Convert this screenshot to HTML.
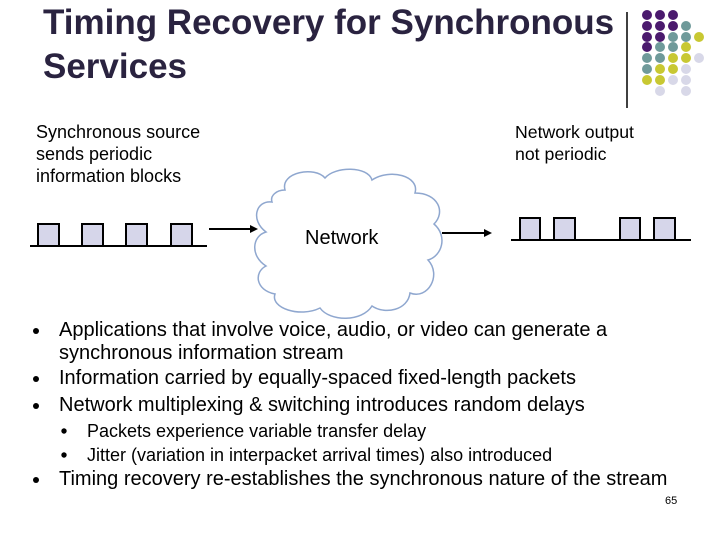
<!DOCTYPE html>
<html><head><style>
body{margin:0;width:720px;height:540px;background:#fff;position:relative;overflow:hidden;font-family:"Liberation Sans",sans-serif;color:#000}
.a{position:absolute;white-space:nowrap}
</style></head><body>
<div class="a" style="left:43px;top:1px;font-size:35px;font-weight:bold;color:#2a2340;line-height:44px">Timing Recovery for Synchronous<br>Services</div>
<svg class="a" style="left:0;top:0" width="720" height="540">
<line x1="627" y1="12" x2="627" y2="108" stroke="#000" stroke-width="1.5"/>
<path d="M285,190 C280,172 315,166 325,178 C335,166 368,166 372,180 C390,168 420,176 415,193 C438,193 446,212 434,224 C448,236 442,256 428,260 C442,275 428,300 410,293 C408,310 385,315 372,306 C362,322 330,322 320,308 C300,318 270,308 275,294 C255,290 254,272 266,266 C250,256 252,236 266,232 C250,220 256,200 272,202 C270,196 276,190 285,190 Z" fill="#fff" stroke="#8fa7cf" stroke-width="1.5"/>
<g stroke="#000" stroke-width="2" fill="#d6d6ea">
<line x1="30" y1="246" x2="207" y2="246"/>
<rect x="38" y="224" width="21" height="22"/><rect x="82" y="224" width="21" height="22"/><rect x="126" y="224" width="21" height="22"/><rect x="171" y="224" width="21" height="22"/>
<line x1="511" y1="240" x2="691" y2="240"/>
<rect x="520" y="218" width="20" height="22"/><rect x="554" y="218" width="21" height="22"/><rect x="620" y="218" width="20" height="22"/><rect x="654" y="218" width="21" height="22"/>
<line x1="209" y1="229" x2="252" y2="229"/><line x1="442" y1="233" x2="486" y2="233"/>
</g>
<polygon points="258,229 250,225 250,233" fill="#000"/>
<polygon points="492,233 484,229 484,237" fill="#000"/>
<g fill="#000">
<circle cx="36" cy="331" r="3"/><circle cx="36" cy="379" r="3"/><circle cx="36" cy="406" r="3"/><circle cx="36" cy="480" r="3"/>
<circle cx="64" cy="431" r="2.7"/><circle cx="64" cy="455" r="2.7"/>
</g>
<circle cx="647" cy="15" r="5" fill="#4b1a6e"/><circle cx="660" cy="15" r="5" fill="#4b1a6e"/><circle cx="673" cy="15" r="5" fill="#4b1a6e"/>
<circle cx="647" cy="26" r="5" fill="#4b1a6e"/><circle cx="660" cy="26" r="5" fill="#4b1a6e"/><circle cx="673" cy="26" r="5" fill="#4b1a6e"/><circle cx="686" cy="26" r="5" fill="#6f9a9a"/>
<circle cx="647" cy="37" r="5" fill="#4b1a6e"/><circle cx="660" cy="37" r="5" fill="#4b1a6e"/><circle cx="673" cy="37" r="5" fill="#6f9a9a"/><circle cx="686" cy="37" r="5" fill="#6f9a9a"/><circle cx="699" cy="37" r="5" fill="#c8c832"/>
<circle cx="647" cy="47" r="5" fill="#4b1a6e"/><circle cx="660" cy="47" r="5" fill="#6f9a9a"/><circle cx="673" cy="47" r="5" fill="#6f9a9a"/><circle cx="686" cy="47" r="5" fill="#c8c832"/>
<circle cx="647" cy="58" r="5" fill="#6f9a9a"/><circle cx="660" cy="58" r="5" fill="#6f9a9a"/><circle cx="673" cy="58" r="5" fill="#c8c832"/><circle cx="686" cy="58" r="5" fill="#c8c832"/><circle cx="699" cy="58" r="5" fill="#d8d8e8"/>
<circle cx="647" cy="69" r="5" fill="#6f9a9a"/><circle cx="660" cy="69" r="5" fill="#c8c832"/><circle cx="673" cy="69" r="5" fill="#c8c832"/><circle cx="686" cy="69" r="5" fill="#d8d8e8"/>
<circle cx="647" cy="80" r="5" fill="#c8c832"/><circle cx="660" cy="80" r="5" fill="#c8c832"/><circle cx="673" cy="80" r="5" fill="#d8d8e8"/><circle cx="686" cy="80" r="5" fill="#d8d8e8"/>
<circle cx="660" cy="91" r="5" fill="#d8d8e8"/><circle cx="686" cy="91" r="5" fill="#d8d8e8"/>
</svg>
<div class="a" style="left:36px;top:121px;font-size:18px;line-height:22px">Synchronous source<br>sends periodic<br>information blocks</div>
<div class="a" style="left:515px;top:121px;font-size:17.7px;line-height:22px">Network output<br>not periodic</div>
<div class="a" style="left:305px;top:227px;font-size:20px">Network</div>
<div class="a" style="left:59px;top:319px;font-size:20px;line-height:23px">Applications that involve voice, audio, or video can generate a<br>synchronous information stream</div>
<div class="a" style="left:59px;top:367px;font-size:20px">Information carried by equally-spaced fixed-length packets</div>
<div class="a" style="left:59px;top:394px;font-size:20px">Network multiplexing &amp; switching introduces random delays</div>
<div class="a" style="left:87px;top:421px;font-size:18px">Packets experience variable transfer delay</div>
<div class="a" style="left:87px;top:445px;font-size:18px">Jitter (variation in interpacket arrival times) also introduced</div>
<div class="a" style="left:59px;top:468px;font-size:20px">Timing recovery re-establishes the synchronous nature of the stream</div>
<div class="a" style="left:665px;top:495px;font-size:11px">65</div>
</body></html>
